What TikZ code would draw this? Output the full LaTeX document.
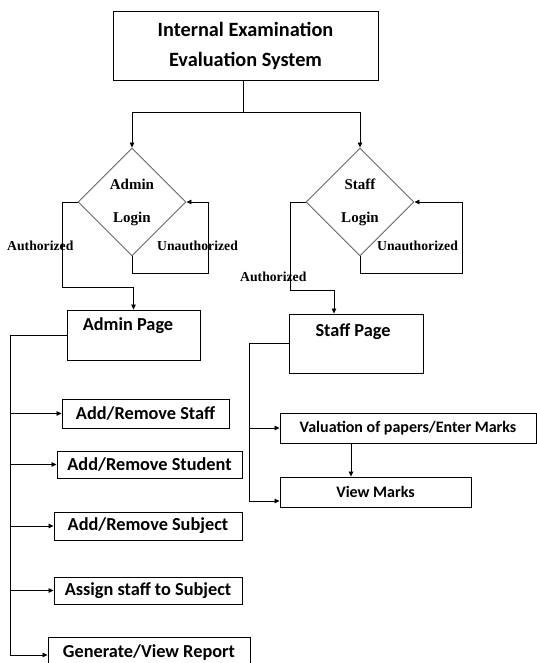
\documentclass[tikz,border=0pt]{standalone}
\usepackage{fontspec}
\setmainfont{Carlito}
\newfontfamily\tnr{Liberation Serif}
\usetikzlibrary{shapes.geometric,arrows.meta}
\begin{document}
\begin{tikzpicture}[x=1pt,y=-1pt,
  box/.style={draw, line width=0.9pt, inner sep=0pt},
  dia/.style={draw=black!60, line width=0.9pt, shape=diamond, minimum width=108pt, minimum height=108pt, inner sep=0pt, align=center, font=\tnr\bfseries\fontsize{15}{18}\selectfont},
  lbl/.style={font=\tnr\bfseries\fontsize{13.7}{16}\selectfont, inner sep=0pt},
  conn/.style={line width=0.8pt},
  arr/.style={conn, -{Triangle[length=5pt,width=4.5pt]}},
  big/.style={font=\bfseries\fontsize{18.3}{22}\selectfont},
  mid/.style={font=\bfseries\fontsize{16}{19}\selectfont}]
\useasboundingbox[fill=white] (0,0) rectangle (537,663);
% main boxes
\node[box, minimum width=265pt, minimum height=69pt, align=center, font=\bfseries\fontsize{20.3}{24}\selectfont] (top) at (245.5,45.5) {Internal Examination\\[6pt]Evaluation System};
\node[dia] (ad) at (132,202) {Admin\\[15pt]Login};
\node[dia] (sd) at (360,202) {Staff\\[15pt]Login};
\node[box, minimum width=133pt, minimum height=50pt] (ap) at (133.5,335) {};
\node[big, inner sep=0pt] (apt) at (128,326) {Admin Page};
\node[box, minimum width=134pt, minimum height=59pt] (sp) at (356,343.5) {};
\node[big, inner sep=0pt] (spt) at (353,332) {Staff Page};
% admin operations
\node[box, big, minimum width=167pt, minimum height=29pt] (s1) at (145.5,413.5) {Add/Remove Staff};
\node[box, big, minimum width=185pt, minimum height=27pt] (s2) at (149.5,464.5) {Add/Remove Student};
\node[box, big, minimum width=188pt, minimum height=28pt] (s3) at (148,526) {Add/Remove Subject};
\node[box, big, minimum width=188pt, minimum height=27pt] (s4) at (148,590.5) {Assign staff to Subject};
\node[box, big, minimum width=202pt, minimum height=32pt] (s5) at (149,653) {Generate/View Report};
% staff operations
\node[box, mid, minimum width=256pt, minimum height=30pt] (v1) at (408,428) {Valuation of papers/Enter Marks};
\node[box, mid, minimum width=191pt, minimum height=30pt] (v2) at (375.5,492) {View Marks};
% connectors from top
\coordinate (j) at (243,112);
\draw[conn] (top.south -| j) -- (j);
\draw[arr] (j) -| (ad.north);
\draw[arr] (j) -| (sd.north);
% admin login
\coordinate (aa) at (62,287);
\draw[arr] (ad.west) -| (aa) -| (ap.north);
\coordinate (au) at (208,273);
\draw[arr] (ad.south) |- (au) |- (ad.east);
\node[lbl, anchor=west] (la1) at (7,246) {Authorized};
\node[lbl, anchor=west] (lu1) at (157,246) {Unauthorized};
% staff login
\coordinate (sa) at (290,290);
\draw[arr] (sd.west) -| (sa) -| ([xshift=-22pt]sp.north);
\coordinate (su) at (462,273);
\draw[arr] (sd.south) |- (su) |- (sd.east);
\node[lbl, anchor=west] (la2) at (240,277) {Authorized};
\node[lbl, anchor=west] (lu2) at (377,246) {Unauthorized};
% admin trunk
\coordinate (at) at (10,655);
\draw[conn] (ap.west) -| (at);
\draw[arr] (at |- s1.west) -- (s1.west);
\draw[arr] (at |- s2.west) -- (s2.west);
\draw[arr] (at |- s3.west) -- (s3.west);
\draw[arr] (at |- s4.west) -- (s4.west);
\draw[arr] (at) -- (at -| s5.west);
% staff trunk
\coordinate (st) at (249,501);
\draw[conn] (sp.west) -| (st);
\draw[arr] (st |- v1.west) -- (v1.west);
\draw[arr] (st) -- (st -| v2.west);
\draw[arr] ([xshift=-57pt]v1.south) -- ([xshift=-24.5pt]v2.north);
\end{tikzpicture}
\end{document}
